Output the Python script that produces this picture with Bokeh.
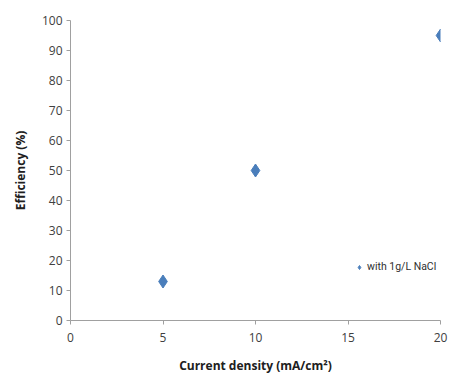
from bokeh.plotting import figure
from bokeh.embed import file_html
from bokeh.resources import INLINE
from bokeh.models import Legend, LegendItem, Range1d, FixedTicker

current_density = [5, 10, 20]
efficiency = [13, 50, 95]
series_name = "with 1g/L NaCl"
x_ticks = [0, 5, 10, 15, 20]
y_ticks = [0, 10, 20, 30, 40, 50, 60, 70, 80, 90, 100]

FONT = "Open Sans"
p = figure(width=453, height=376, output_backend="svg", toolbar_location=None,
           x_range=Range1d(0, 20), y_range=Range1d(0, 100),
           min_border_left=70, min_border_right=13, min_border_top=20, min_border_bottom=55)
p.outline_line_color = None
p.xgrid.visible = False
p.ygrid.visible = False

r = p.scatter(current_density, efficiency, marker="diamond", size=13,
              fill_color="#4a7ebb", line_color="#4a7ebb")

for ax in (p.xaxis, p.yaxis):
    ax.axis_line_color = "#a0a0a0"
    ax.major_tick_line_color = "#a0a0a0"
    ax.minor_tick_line_color = None
    ax.major_tick_in = 0
    ax.major_tick_out = 4
    ax.major_label_text_font = FONT
    ax.major_label_text_font_size = "12px"
    ax.major_label_text_color = "#404040"
    ax.axis_label_text_font = FONT
    ax.axis_label_text_font_size = "12px"
    ax.axis_label_text_font_style = "bold"
    ax.axis_label_text_color = "#202020"

p.xaxis.ticker = FixedTicker(ticks=x_ticks)
p.yaxis.ticker = FixedTicker(ticks=y_ticks)
p.xaxis.axis_label = "Current density (mA/cm²)"
p.yaxis.axis_label = "Efficiency (%)"
p.xaxis.major_label_standoff = 8
p.yaxis.major_label_standoff = 4
p.xaxis.axis_label_standoff = 12
p.yaxis.axis_label_standoff = 10

legend = Legend(items=[LegendItem(label=series_name, renderers=[r])],
                location=(284, 47), background_fill_alpha=0, border_line_color=None,
                label_text_font="Roboto", label_text_font_size="10.5px",
                label_text_color="#303030",
                glyph_width=10, glyph_height=10, label_standoff=3, padding=2, margin=0)
p.add_layout(legend, "center")

open("out.html", "w").write(file_html(p, INLINE))
